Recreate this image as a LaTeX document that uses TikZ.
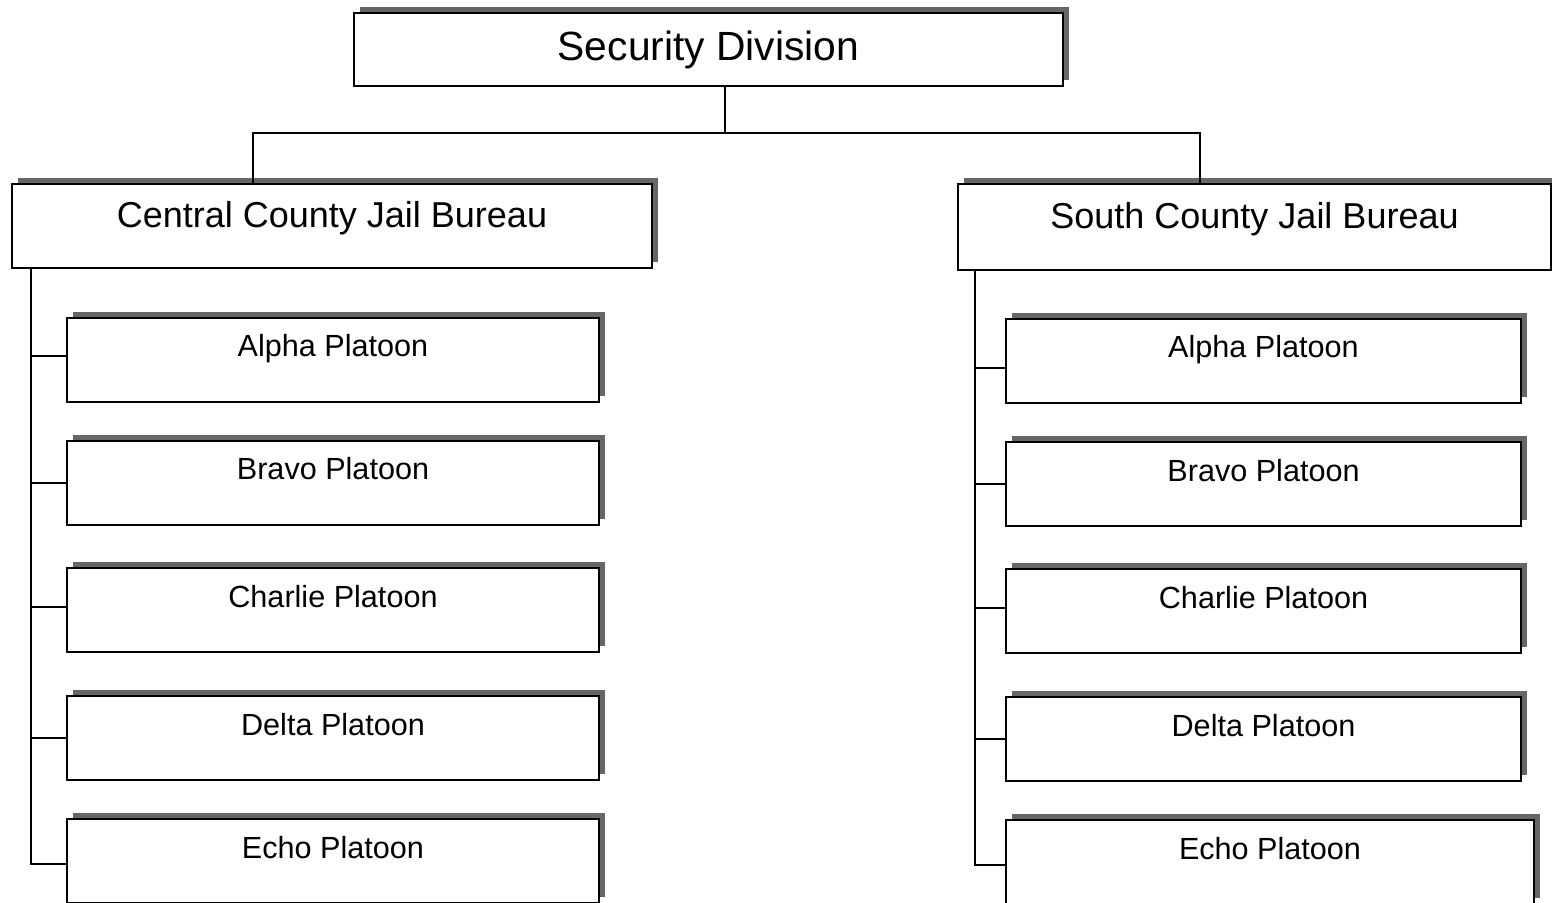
\documentclass[tikz,border=0pt]{standalone}
\usepackage{fontspec}
\setmainfont{Liberation Sans}
\usetikzlibrary{shadows}
\tikzset{
  box/.style={draw, line width=1pt, fill=white, rectangle, anchor=north west,
    inner xsep=0pt, inner ysep=0pt,
    drop shadow={shadow xshift=3pt, shadow yshift=3pt, fill=black!60, opacity=1}},
  topbox/.style={box, minimum width=354.5pt, text height=24pt, text depth=12.5pt,
    font=\fontsize{20.4}{24}\selectfont},
  bureau/.style={box, text height=22pt, text depth=20pt,
    font=\fontsize{18}{22}\selectfont},
  platoon/.style={box, text height=19.5pt, text depth=22.5pt,
    font=\fontsize{15.3}{18}\selectfont},
  conn/.style={line width=1pt, line cap=rect}
}
\begin{document}
\begin{tikzpicture}[x=0.5pt, y=-0.5pt]
\useasboundingbox (0,0) rectangle (1552,903);
\clip (0,0) rectangle (1552,903);
% top
\node[topbox] (sec) at (353,12) {Security Division};
% bureaus
\node[bureau, minimum width=320pt] (cen) at (11,183) {Central County Jail Bureau};
\node[bureau, minimum width=296.5pt, text height=22.5pt, text depth=20.5pt] (sou) at (957,183) {South County Jail Bureau};
% left platoons
\node[platoon, minimum width=266pt] (la) at (66,317) {Alpha Platoon};
\node[platoon, minimum width=266pt] (lb) at (66,440) {Bravo Platoon};
\node[platoon, minimum width=266pt] (lc) at (66,567) {Charlie Platoon};
\node[platoon, minimum width=266pt] (ld) at (66,695) {Delta Platoon};
\node[platoon, minimum width=266pt] (le) at (66,818) {Echo Platoon};
% right platoons
\node[platoon, minimum width=257.5pt] (ra) at (1005,318) {Alpha Platoon};
\node[platoon, minimum width=257.5pt] (rb) at (1005,441) {Bravo Platoon};
\node[platoon, minimum width=257.5pt] (rc) at (1005,568) {Charlie Platoon};
\node[platoon, minimum width=257.5pt] (rd) at (1005,696) {Delta Platoon};
\node[platoon, minimum width=264pt] (re) at (1005,819) {Echo Platoon};
% connector coordinates
\coordinate (j) at (725,133);
\coordinate (jl) at (253,0);
\coordinate (jr) at (1200,0);
\coordinate (lsp) at (31,0);
\coordinate (rsp) at (975,0);
% top connectors
\draw[conn] (sec.south -| j) -- (j);
\draw[conn] (cen.north -| jl) |- (j) -| (sou.north -| jr);
% left spine
\draw[conn] (cen.south -| lsp) |- ([yshift=-1.5pt]le.west);
\draw[conn] ([yshift=2pt]lsp |- la.west) -- ([yshift=2pt]la.west);
\draw[conn] (lsp |- lb.west) -- (lb.west);
\draw[conn] ([yshift=1.5pt]lsp |- lc.west) -- ([yshift=1.5pt]lc.west);
\draw[conn] (lsp |- ld.west) -- (ld.west);
% right spine
\draw[conn] (sou.south -| rsp) |- ([yshift=-1.5pt]re.west);
\draw[conn] ([yshift=-3.5pt]rsp |- ra.west) -- ([yshift=-3.5pt]ra.west);
\draw[conn] (rsp |- rb.west) -- (rb.west);
\draw[conn] ([yshift=1.5pt]rsp |- rc.west) -- ([yshift=1.5pt]rc.west);
\draw[conn] (rsp |- rd.west) -- (rd.west);
\end{tikzpicture}
\end{document}
